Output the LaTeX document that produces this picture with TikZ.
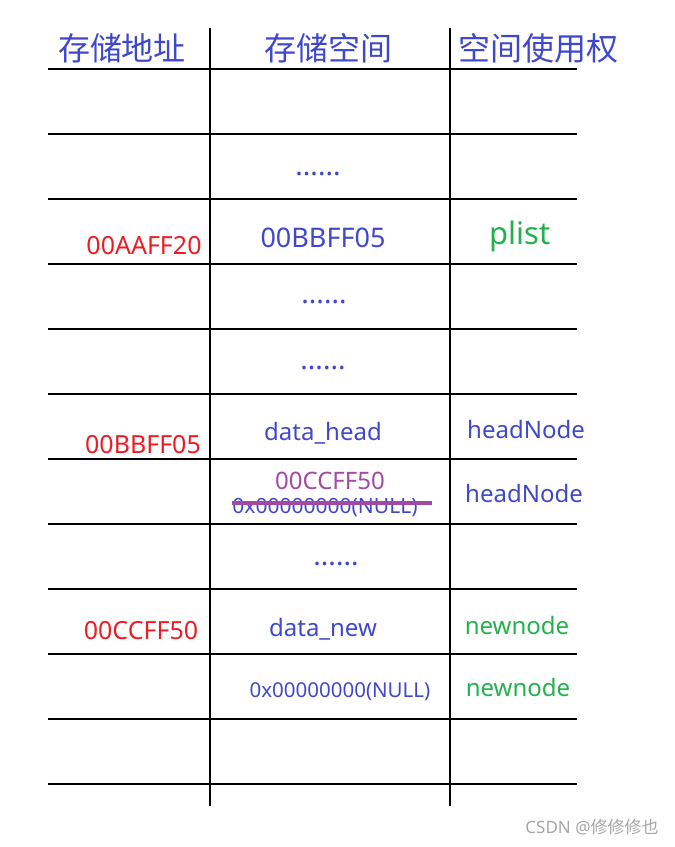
\documentclass[tikz,border=0pt]{standalone}
\usepackage{fontspec}
\setmainfont{Noto Sans}
\newfontfamily\cjk{Noto Sans CJK SC}
\usepackage{tikz}
\usepackage{xcolor}
\definecolor{ind}{RGB}{63,72,204}
\definecolor{rd}{RGB}{237,28,36}
\definecolor{gr}{RGB}{34,177,76}
\definecolor{pu}{RGB}{163,73,164}

\begin{document}
\begin{tikzpicture}[x=1pt,y=-1pt,line width=1.1pt]
  \tikzstyle{every node}=[inner sep=0pt,text height=0.72em,text depth=0.2em]
  \tikzstyle{head}=[text=ind,font=\cjk\fontsize{32}{32}\selectfont]
  \tikzstyle{addr}=[text=rd,font=\fontsize{25}{25}\selectfont]
  \tikzstyle{val}=[text=ind,font=\fontsize{24}{24}\selectfont]
  \tikzstyle{own}=[text=gr,font=\fontsize{24}{24}\selectfont]
  \tikzstyle{dots}=[text=ind,font=\fontsize{28}{28}\selectfont]
  \useasboundingbox (0,0) rectangle (675,847);

  % table
  \foreach \y in {69,134,...,784}
    \draw (48,\y) -- (577,\y);
  \foreach \x in {210,450}
    \draw (\x,28) -- (\x,806);

  % titles
  \node[head] (tA) at (122,58) {存储地址};
  \node[head] (tS) at (328,58) {存储空间};
  \node[head] (tU) at (538,58) {空间使用权};

  \node[dots] (d1) at (318,173) {......};
  \node[addr] (aP) at (144,252) {00AAFF20};
  \node[val,font=\fontsize{27}{27}\selectfont] (vP) at (323,245) {00BBFF05};
  \node[own,font=\fontsize{31}{31}\selectfont] (plist) at (520,242) {plist};
  \node[dots] (d2) at (324,301) {......};
  \node[dots] (d3) at (323,367) {......};

  \node[addr] (aH) at (143,451) {00BBFF05};
  \node[val] (vH) at (323,438) {data\_head};
  \node[val] (oH1) at (526,436) {headNode};
  \node[val,text=pu] (vN) at (330,487) {00CCFF50};
  \node[val,font=\fontsize{21}{21}\selectfont] (nul) at (325,511) {0x00000000(NULL)};
  \node[val] (oH2) at (524,500) {headNode};
  \draw[pu,line width=3.2pt] ([yshift=8]nul.west) -- ([xshift=14,yshift=8]nul.east);
  \node[dots] (d4) at (336,563) {......};

  \node[addr] (aN) at (141,637) {00CCFF50};
  \node[val] (vD) at (323,634) {data\_new};
  \node[own] (oN1) at (517,632) {newnode};
  \node[val,font=\fontsize{20.5}{20.5}\selectfont] (nul2) at (340,695) {0x00000000(NULL)};
  \node[own] (oN2) at (518,694) {newnode};

  \node[text=gray!70,font=\fontsize{17}{17}\selectfont] (wm) at (592,831) {CSDN @{\cjk 修修修也}};
\end{tikzpicture}
\end{document}
